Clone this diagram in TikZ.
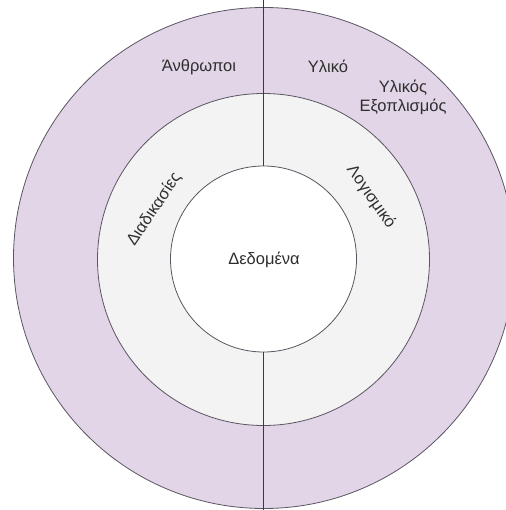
\documentclass[tikz,border=0pt]{standalone}
\usepackage{fontspec}
\setmainfont{Liberation Sans}
\definecolor{ringouter}{HTML}{E1D5E7}
\definecolor{ringmid}{HTML}{F3F3F3}
\definecolor{ringedge}{HTML}{5A5560}
\definecolor{axis}{HTML}{3E3548}
\definecolor{labeltext}{HTML}{2E2E2E}
\begin{document}
\begin{tikzpicture}[x=1pt,y=-1pt,
  ring/.style={circle,draw=ringedge,line width=0.8pt,inner sep=0pt},
  lbl/.style={text=labeltext,font=\fontsize{16.5}{19}\selectfont,inner sep=0pt,align=center},
  divider/.style={draw=axis,line width=1.4pt}]
  \useasboundingbox (0,0) rectangle (505,510);
  % three nested layers
  \node[ring,fill=ringouter,minimum size=501pt] (outer) at (264,258) {};
  \node[ring,fill=ringmid,minimum size=332pt] (middle) at (263.5,259.5) {};
  \node[ring,fill=white,minimum size=186pt] (inner) at (263.5,259) {};
  % vertical divider through the outer two layers
  \coordinate (topend) at (263.5,0);
  \coordinate (botend) at (263.5,510);
  \draw[divider] (topend) -- (inner.north);
  \draw[divider] (inner.south) -- (botend);
  % labels
  \node[lbl] (people) at (199,67) {Άνθρωποι};
  \node[lbl] (material) at (328,66) {Υλικό};
  \node[lbl] (equipment) at (403,97) {Υλικός\\Εξοπλισμός};
  \node[lbl,rotate=56] (procedures) at (154,209) {Διαδικασίες};
  \node[lbl,rotate=-55] (software) at (371,197) {Λογισμικό};
  \node[lbl] (data) at (264,260) {Δεδομένα};
\end{tikzpicture}
\end{document}
